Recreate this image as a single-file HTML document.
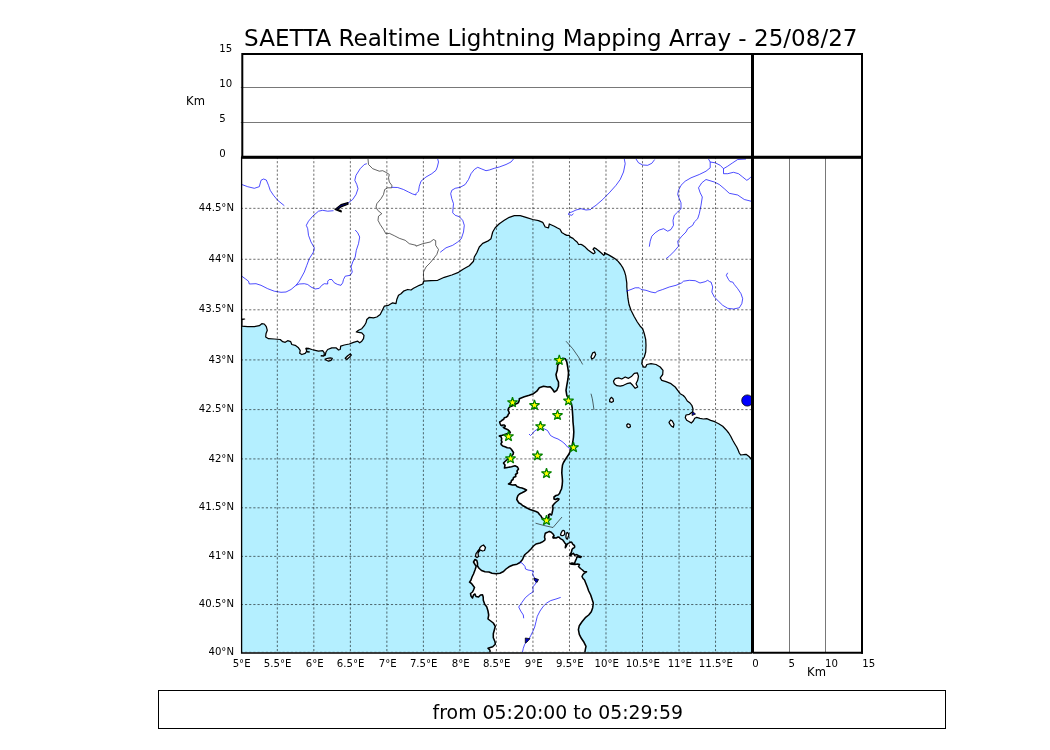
<!DOCTYPE html>
<html lang="en"><head><meta charset="utf-8"><title>SAETTA Realtime Lightning Mapping Array</title>
<style>html,body{margin:0;padding:0;background:#fff}body{width:1050px;height:750px;overflow:hidden;position:relative}svg{position:absolute;left:0;top:0;display:block}text{font-family:"DejaVu Sans","Liberation Sans",sans-serif;fill:#000}.t{font-size:11.1px}.dot{stroke:#000;stroke-width:0.8;stroke-dasharray:2.2 1.97;fill:none;opacity:.72}.gl{stroke:#555;stroke-width:0.8;fill:none}.riv{fill:none;stroke:#0000ff;stroke-width:0.7;stroke-linejoin:round}.bord{fill:none;stroke:#111;stroke-width:0.65}.coast{fill:none;stroke:#000;stroke-width:1.25;stroke-linejoin:round}.star{fill:#ffff00;stroke:#008000;stroke-width:1.2;stroke-linejoin:bevel}</style></head><body>
<svg width="1050" height="750" viewBox="0 0 1050 750">
<rect x="0" y="0" width="1050" height="750" fill="#fff"/>
<defs><clipPath id="mc"><rect x="240.8" y="156.95" width="511.25999999999993" height="495.40000000000003"/></clipPath></defs>
<g clip-path="url(#mc)">
<rect x="241" y="157" width="512" height="496" fill="#b4efff"/>
<path d="M241.0 157.0 241.0 319.0 241.5 319.0 244.6 319.0 241.9 319.6 241.8 326.2 247.7 326.7 254.3 326.7 259.3 325.7 261.8 323.7 264.3 324.0 266.3 326.7 267.3 330.3 266.0 333.7 265.7 337.0 268.5 338.7 274.3 339.0 280.2 339.5 282.7 341.7 285.2 342.3 287.7 340.7 290.7 341.7 291.8 344.5 295.2 345.3 298.5 347.8 300.2 350.3 299.7 353.3 301.8 354.5 305.2 353.3 306.8 351.2 306.0 348.7 308.5 348.3 311.8 349.5 315.2 350.3 318.5 351.2 322.7 350.7 324.3 352.8 324.0 355.3 325.2 355.3 326.0 352.0 327.7 349.5 331.8 347.8 336.0 347.8 338.5 350.0 340.2 349.5 340.7 346.2 344.3 345.0 349.3 344.0 353.5 342.3 357.7 341.2 359.7 342.8 361.8 341.2 363.5 338.7 364.0 335.3 361.8 332.8 358.5 332.3 356.3 332.0 358.5 330.3 361.8 328.7 364.3 325.7 366.0 322.8 366.8 319.5 369.3 317.3 373.5 317.8 376.8 317.0 380.2 314.5 382.7 309.5 384.3 306.2 388.5 305.3 392.7 302.8 396.0 303.7 396.8 299.5 398.5 295.3 401.0 293.7 403.5 291.2 407.7 289.5 411.0 290.0 413.5 288.3 416.0 287.0 419.3 285.3 422.7 284.0 423.5 282.0 423.5 281.2 431.0 280.7 437.7 280.3 444.3 277.3 451.8 275.0 458.5 272.3 463.5 269.0 469.3 265.7 473.5 261.2 474.3 257.0 476.8 252.8 479.3 247.0 482.7 243.3 487.7 241.2 491.0 238.7 492.7 232.0 495.2 227.8 499.3 223.7 504.3 220.3 509.3 217.3 514.3 215.7 520.2 215.7 526.0 217.3 532.7 219.5 538.5 220.7 542.7 222.3 545.2 227.0 548.5 227.8 549.3 224.0 554.3 226.2 557.5 228.0 560.0 229.3 561.7 232.4 564.3 234.1 566.9 235.4 569.1 235.4 570.4 237.1 573.0 238.4 575.2 240.6 577.3 242.3 578.6 244.5 580.8 244.3 583.0 245.4 585.2 247.1 587.8 249.7 590.8 251.9 593.4 253.8 595.1 252.8 594.3 250.6 593.0 249.3 594.3 247.7 596.4 248.9 599.0 251.0 601.6 253.2 603.8 255.4 604.7 254.1 604.4 252.6 606.0 253.6 608.6 254.9 612.0 256.9 615.5 259.0 618.1 261.4 620.7 264.5 622.9 267.9 624.6 271.8 625.7 275.7 626.3 279.6 626.8 283.1 626.8 287.0 627.3 292.0 628.0 298.7 629.0 304.5 631.0 310.3 634.0 316.2 637.3 322.0 640.2 326.2 642.7 328.7 644.3 333.7 645.7 339.5 646.0 345.3 645.7 352.0 644.3 357.0 642.3 360.3 641.8 363.7 643.5 367.0 645.7 367.0 646.8 364.5 651.0 363.7 656.0 364.5 660.2 367.0 663.0 370.3 662.7 374.5 660.2 377.8 661.8 380.3 666.0 381.7 671.0 383.7 675.2 387.0 677.7 390.3 680.2 393.7 683.3 395.5 685.3 397.7 687.3 401.0 690.0 403.0 692.0 405.7 693.0 409.0 692.7 411.7 689.3 414.3 686.0 415.0 685.3 417.7 686.7 420.3 689.3 421.7 691.3 423.0 693.3 421.0 694.7 418.3 696.7 417.4 700.0 418.3 703.3 419.0 706.7 418.7 710.7 420.3 714.7 421.7 718.7 423.7 722.7 426.3 726.0 429.7 728.7 433.0 730.7 436.3 732.7 440.3 734.7 443.7 736.7 447.0 738.0 449.7 739.3 453.0 740.7 455.0 743.3 454.7 746.0 454.3 748.7 456.3 751.3 459.0 753.0 460.5 753.0 157.0Z" fill="#fff"/>
<path class="coast" d="M241.5 319.0 244.6 319.0 241.9 319.6 241.8 326.2 247.7 326.7 254.3 326.7 259.3 325.7 261.8 323.7 264.3 324.0 266.3 326.7 267.3 330.3 266.0 333.7 265.7 337.0 268.5 338.7 274.3 339.0 280.2 339.5 282.7 341.7 285.2 342.3 287.7 340.7 290.7 341.7 291.8 344.5 295.2 345.3 298.5 347.8 300.2 350.3 299.7 353.3 301.8 354.5 305.2 353.3 306.8 351.2 306.0 348.7 308.5 348.3 311.8 349.5 315.2 350.3 318.5 351.2 322.7 350.7 324.3 352.8 324.0 355.3 325.2 355.3 326.0 352.0 327.7 349.5 331.8 347.8 336.0 347.8 338.5 350.0 340.2 349.5 340.7 346.2 344.3 345.0 349.3 344.0 353.5 342.3 357.7 341.2 359.7 342.8 361.8 341.2 363.5 338.7 364.0 335.3 361.8 332.8 358.5 332.3 356.3 332.0 358.5 330.3 361.8 328.7 364.3 325.7 366.0 322.8 366.8 319.5 369.3 317.3 373.5 317.8 376.8 317.0 380.2 314.5 382.7 309.5 384.3 306.2 388.5 305.3 392.7 302.8 396.0 303.7 396.8 299.5 398.5 295.3 401.0 293.7 403.5 291.2 407.7 289.5 411.0 290.0 413.5 288.3 416.0 287.0 419.3 285.3 422.7 284.0 423.5 282.0 423.5 281.2 431.0 280.7 437.7 280.3 444.3 277.3 451.8 275.0 458.5 272.3 463.5 269.0 469.3 265.7 473.5 261.2 474.3 257.0 476.8 252.8 479.3 247.0 482.7 243.3 487.7 241.2 491.0 238.7 492.7 232.0 495.2 227.8 499.3 223.7 504.3 220.3 509.3 217.3 514.3 215.7 520.2 215.7 526.0 217.3 532.7 219.5 538.5 220.7 542.7 222.3 545.2 227.0 548.5 227.8 549.3 224.0 554.3 226.2 557.5 228.0 560.0 229.3 561.7 232.4 564.3 234.1 566.9 235.4 569.1 235.4 570.4 237.1 573.0 238.4 575.2 240.6 577.3 242.3 578.6 244.5 580.8 244.3 583.0 245.4 585.2 247.1 587.8 249.7 590.8 251.9 593.4 253.8 595.1 252.8 594.3 250.6 593.0 249.3 594.3 247.7 596.4 248.9 599.0 251.0 601.6 253.2 603.8 255.4 604.7 254.1 604.4 252.6 606.0 253.6 608.6 254.9 612.0 256.9 615.5 259.0 618.1 261.4 620.7 264.5 622.9 267.9 624.6 271.8 625.7 275.7 626.3 279.6 626.8 283.1 626.8 287.0 627.3 292.0 628.0 298.7 629.0 304.5 631.0 310.3 634.0 316.2 637.3 322.0 640.2 326.2 642.7 328.7 644.3 333.7 645.7 339.5 646.0 345.3 645.7 352.0 644.3 357.0 642.3 360.3 641.8 363.7 643.5 367.0 645.7 367.0 646.8 364.5 651.0 363.7 656.0 364.5 660.2 367.0 663.0 370.3 662.7 374.5 660.2 377.8 661.8 380.3 666.0 381.7 671.0 383.7 675.2 387.0 677.7 390.3 680.2 393.7 683.3 395.5 685.3 397.7 687.3 401.0 690.0 403.0 692.0 405.7 693.0 409.0 692.7 411.7 689.3 414.3 686.0 415.0 685.3 417.7 686.7 420.3 689.3 421.7 691.3 423.0 693.3 421.0 694.7 418.3 696.7 417.4 700.0 418.3 703.3 419.0 706.7 418.7 710.7 420.3 714.7 421.7 718.7 423.7 722.7 426.3 726.0 429.7 728.7 433.0 730.7 436.3 732.7 440.3 734.7 443.7 736.7 447.0 738.0 449.7 739.3 453.0 740.7 455.0 743.3 454.7 746.0 454.3 748.7 456.3 751.3 459.0 753.0 460.5"/>
<path class="coast" d="M519.3 398.7 524.3 396.7 529.3 395.3 533.5 393.7 536.8 391.2 539.3 387.8 543.5 386.2 547.7 387.0 550.2 386.7 552.7 389.5 554.3 392.0 556.8 390.3 558.5 386.2 558.5 382.0 556.8 378.7 556.0 374.5 557.3 370.3 557.7 365.3 560.2 362.0 562.7 358.3 565.2 358.7 566.8 362.0 567.7 367.0 568.5 372.8 568.0 378.7 566.8 385.3 566.0 390.3 566.8 395.3 568.5 398.7 570.2 402.0 571.5 404.0 572.2 408.0 572.5 412.5 572.8 417.0 573.0 422.0 573.5 427.0 573.8 432.0 573.5 437.0 572.8 442.0 572.0 446.0 570.5 450.5 569.0 454.0 567.0 457.0 565.0 460.0 563.5 462.5 562.5 465.0 562.0 469.0 561.8 473.0 562.2 477.0 562.5 481.0 562.2 485.0 561.5 489.0 560.5 491.0 559.5 493.5 558.0 495.0 556.0 495.5 554.0 497.0 554.0 499.0 555.5 499.5 557.5 498.5 559.0 499.0 558.0 500.5 555.5 502.5 554.0 504.0 552.5 506.0 553.0 508.0 552.5 511.0 552.0 513.5 551.5 515.0 550.0 514.0 548.5 515.0 549.0 517.0 547.5 519.0 544.0 519.0 542.0 518.0 541.0 516.0 539.5 514.5 538.0 512.5 536.0 511.5 533.0 510.5 530.0 509.5 527.0 508.0 524.5 506.5 522.5 505.5 521.0 504.0 519.0 503.0 518.0 501.5 516.8 499.5 517.2 497.5 518.0 495.5 519.5 494.0 522.0 492.8 524.5 491.5 526.5 490.0 524.5 489.0 522.0 488.0 519.5 487.5 517.0 486.5 515.5 484.8 512.5 485.0 510.5 484.5 508.5 484.0 511.0 482.5 511.5 480.5 513.0 479.5 513.5 477.5 515.8 476.5 515.5 474.5 517.5 473.0 517.0 471.0 518.5 469.0 517.5 467.0 515.0 465.8 511.5 466.8 507.5 467.5 504.5 468.0 505.0 465.0 503.5 463.0 505.0 461.5 509.0 458.0 513.0 454.5 513.5 452.5 511.3 449.3 510.0 448.0 507.3 447.7 505.0 446.7 502.7 446.0 501.3 444.7 501.0 443.7 502.0 442.0 501.3 440.7 501.7 438.7 501.0 436.7 499.3 436.0 500.0 435.7 502.3 435.3 510.3 432.7 509.7 431.3 508.3 430.0 506.3 429.0 504.3 428.3 503.3 427.3 504.7 427.0 505.3 426.0 504.3 425.0 503.0 425.0 501.7 425.7 500.7 425.0 500.0 423.3 499.7 422.0 500.7 421.3 502.0 420.3 503.7 419.3 504.3 417.7 506.0 417.3 507.7 416.0 508.3 414.3 509.3 413.3 509.0 412.0 508.0 410.0 508.7 408.0 510.0 406.7 514.3 405.0 515.7 404.0 517.7 403.3 518.7 402.0 519.3 400.0Z" style="fill:#fff;stroke-width:1.6"/>
<path d="M490.0 653.5 490.0 650.3 488.0 648.3 492.7 646.7 495.3 644.3 495.0 641.7 493.3 637.7 493.3 633.7 494.4 629.7 495.3 626.3 493.3 623.0 490.7 621.0 488.0 619.0 488.7 615.0 488.0 611.0 486.7 606.7 484.7 604.3 483.3 600.3 483.2 597.0 482.5 594.8 480.5 595.0 478.5 597.0 476.0 596.5 475.0 594.0 473.5 595.0 472.5 598.0 471.0 596.0 470.5 593.5 472.5 592.0 473.5 590.0 474.5 587.5 473.0 585.5 471.5 583.5 469.5 582.2 471.0 580.0 472.0 577.0 473.5 574.0 475.0 570.0 476.0 567.0 476.0 566.0 475.0 564.5 473.5 562.0 475.0 559.5 476.8 560.5 477.5 563.0 477.5 566.0 479.0 568.2 481.5 570.5 485.0 571.8 489.0 572.0 492.0 573.2 496.0 573.8 500.0 573.2 503.5 571.5 506.0 569.0 509.0 566.8 513.0 565.0 517.0 564.2 520.0 562.5 522.5 559.5 524.0 556.0 525.0 554.5 528.0 552.0 531.0 549.0 533.5 546.0 536.0 544.0 540.0 543.0 541.6 542.3 543.2 541.3 544.8 540.2 545.1 538.9 544.5 537.3 544.8 535.1 545.3 533.3 546.9 532.5 548.3 531.9 549.3 531.4 550.7 531.9 552.0 533.0 553.3 534.3 554.1 535.9 552.8 537.0 553.3 538.1 554.7 537.8 556.0 538.1 557.1 537.5 558.1 537.0 559.2 537.3 560.0 538.3 561.3 539.1 562.7 539.9 563.5 541.0 564.3 542.1 565.1 543.4 566.1 544.2 565.6 545.8 565.3 547.7 566.1 546.6 566.9 544.7 568.0 543.4 569.3 542.9 570.7 542.1 571.7 542.3 572.5 543.7 573.3 544.7 574.4 545.5 574.7 546.9 573.9 547.9 572.8 548.5 572.0 549.5 571.7 551.1 571.2 552.7 570.4 554.1 569.6 555.7 570.9 555.4 572.0 554.1 573.3 553.3 574.1 554.3 574.7 555.4 576.0 554.6 577.3 554.9 578.4 555.7 580.0 556.2 581.3 556.7 580.5 557.5 578.9 557.0 577.3 556.7 576.8 557.5 576.3 559.1 575.5 560.7 574.9 562.3 574.7 563.4 572.0 563.1 569.8 563.7 572.0 564.3 575.0 564.5 577.5 564.0 579.5 564.5 578.5 566.5 580.5 568.5 582.5 570.0 584.0 571.5 586.5 571.8 584.5 573.0 583.0 574.5 582.0 576.5 583.0 578.5 584.5 580.0 585.5 582.5 587.3 587.0 588.7 591.0 590.7 595.0 592.0 599.0 593.3 603.0 592.7 607.7 591.3 611.7 588.7 615.0 585.3 617.7 582.0 621.7 579.3 625.7 578.4 629.7 579.3 634.3 581.3 638.3 584.0 642.3 586.0 646.3 585.3 649.7 584.7 653.5Z" fill="#fff"/><path class="coast" d="M490.0 653.5 490.0 650.3 488.0 648.3 492.7 646.7 495.3 644.3 495.0 641.7 493.3 637.7 493.3 633.7 494.4 629.7 495.3 626.3 493.3 623.0 490.7 621.0 488.0 619.0 488.7 615.0 488.0 611.0 486.7 606.7 484.7 604.3 483.3 600.3 483.2 597.0 482.5 594.8 480.5 595.0 478.5 597.0 476.0 596.5 475.0 594.0 473.5 595.0 472.5 598.0 471.0 596.0 470.5 593.5 472.5 592.0 473.5 590.0 474.5 587.5 473.0 585.5 471.5 583.5 469.5 582.2 471.0 580.0 472.0 577.0 473.5 574.0 475.0 570.0 476.0 567.0 476.0 566.0 475.0 564.5 473.5 562.0 475.0 559.5 476.8 560.5 477.5 563.0 477.5 566.0 479.0 568.2 481.5 570.5 485.0 571.8 489.0 572.0 492.0 573.2 496.0 573.8 500.0 573.2 503.5 571.5 506.0 569.0 509.0 566.8 513.0 565.0 517.0 564.2 520.0 562.5 522.5 559.5 524.0 556.0 525.0 554.5 528.0 552.0 531.0 549.0 533.5 546.0 536.0 544.0 540.0 543.0 541.6 542.3 543.2 541.3 544.8 540.2 545.1 538.9 544.5 537.3 544.8 535.1 545.3 533.3 546.9 532.5 548.3 531.9 549.3 531.4 550.7 531.9 552.0 533.0 553.3 534.3 554.1 535.9 552.8 537.0 553.3 538.1 554.7 537.8 556.0 538.1 557.1 537.5 558.1 537.0 559.2 537.3 560.0 538.3 561.3 539.1 562.7 539.9 563.5 541.0 564.3 542.1 565.1 543.4 566.1 544.2 565.6 545.8 565.3 547.7 566.1 546.6 566.9 544.7 568.0 543.4 569.3 542.9 570.7 542.1 571.7 542.3 572.5 543.7 573.3 544.7 574.4 545.5 574.7 546.9 573.9 547.9 572.8 548.5 572.0 549.5 571.7 551.1 571.2 552.7 570.4 554.1 569.6 555.7 570.9 555.4 572.0 554.1 573.3 553.3 574.1 554.3 574.7 555.4 576.0 554.6 577.3 554.9 578.4 555.7 580.0 556.2 581.3 556.7 580.5 557.5 578.9 557.0 577.3 556.7 576.8 557.5 576.3 559.1 575.5 560.7 574.9 562.3 574.7 563.4 572.0 563.1 569.8 563.7 572.0 564.3 575.0 564.5 577.5 564.0 579.5 564.5 578.5 566.5 580.5 568.5 582.5 570.0 584.0 571.5 586.5 571.8 584.5 573.0 583.0 574.5 582.0 576.5 583.0 578.5 584.5 580.0 585.5 582.5 587.3 587.0 588.7 591.0 590.7 595.0 592.0 599.0 593.3 603.0 592.7 607.7 591.3 611.7 588.7 615.0 585.3 617.7 582.0 621.7 579.3 625.7 578.4 629.7 579.3 634.3 581.3 638.3 584.0 642.3 586.0 646.3 585.3 649.7 584.7 653.5" style="stroke-width:1.55"/>
<path class="coast" d="M480.0 547.5 481.5 546.0 483.5 545.0 485.5 547.5 484.5 550.5 482.5 551.0 480.5 550.0 479.0 551.5 478.0 553.5 478.5 556.5 477.0 557.5 475.5 556.5 476.0 553.5 477.5 551.5 479.5 549.0Z" style="fill:#fff"/>
<path class="coast" d="M560.5 534.9 561.1 533.0 562.1 531.1 563.2 530.3 564.3 530.9 564.8 532.5 564.5 534.3 563.5 535.4 561.9 535.7Z" style="fill:#fff"/>
<path class="coast" d="M566.4 533.0 567.5 532.5 568.5 533.8 568.8 535.4 568.0 537.3 567.5 539.1 566.4 538.6 565.9 537.0 566.1 534.9Z" style="fill:#fff"/>
<path class="coast" d="M613.5 381.2 615.2 378.7 618.5 377.8 621.8 379.0 625.2 377.0 628.5 378.3 631.8 376.2 634.3 373.3 637.3 372.8 638.5 376.2 637.7 380.3 636.0 383.7 637.7 387.0 635.2 388.3 632.7 385.3 630.2 382.8 626.8 383.7 623.5 385.3 620.2 386.2 616.8 385.7 614.3 383.7Z" style="fill:#fff"/>
<path class="coast" d="M591.0 357.0 592.7 352.8 594.7 352.0 595.7 354.5 594.0 357.8 591.8 359.0Z" style="fill:#fff"/>
<path class="coast" d="M609.7 399.5 611.3 397.3 613.0 398.7 613.5 401.2 611.8 402.3 609.7 401.7Z" style="fill:#fff"/>
<path class="coast" d="M669.0 422.3 670.7 420.0 672.3 421.0 674.0 424.3 673.3 427.3 671.3 426.0 669.6 423.7Z" style="fill:#fff"/>
<path class="coast" d="M626.7 425.0 628.0 423.7 630.0 424.6 630.4 426.7 628.7 427.7 627.0 426.7Z" style="fill:#fff"/>
<path class="coast" d="M325.2 359.0 327.7 358.3 330.2 357.8 332.3 358.3 331.0 360.3 328.5 361.2 326.0 360.0Z" style="fill:#fff"/>
<path class="coast" d="M345.2 358.3 347.7 355.7 350.2 354.0 351.3 355.0 349.3 357.3 346.8 359.5Z" style="fill:#fff"/>
<path d="M320.7 355.7 324.3 356.0" fill="none" stroke="#000" stroke-width="1.6"/>
<path d="M305.7 348.3 308.5 348.7" fill="none" stroke="#000" stroke-width="1.6"/>
<path d="M306.8 351.7 309.7 352.0" fill="none" stroke="#000" stroke-width="1.6"/>
<path class="bord" d="M368.0 159.0 368.5 164.5 372.7 168.7 379.3 171.2 382.7 170.7 386.8 172.8 389.3 174.5 388.5 177.8 389.3 182.0 391.8 185.3 391.8 187.8 387.7 187.8 384.7 189.5 383.5 194.5 381.0 198.7 376.8 203.7 376.0 207.0 377.7 210.3 381.8 213.7 378.5 216.2 378.0 220.3 380.2 224.5 383.5 229.5 386.0 234.0 389.3 233.3 394.3 235.7 399.3 238.3 405.2 240.3 409.3 243.7 416.0 245.3 416.0 246.2 422.7 243.7 430.2 242.0 433.5 239.5 435.7 240.7 435.7 245.3 438.5 249.5 436.8 254.5 433.5 258.7 430.2 262.8 426.0 267.0 423.5 272.0 423.5 277.0 424.3 281.2"/>
<path class="bord" d="M566.0 341.2 572.7 348.7 578.5 357.0 582.7 364.5"/>
<path class="bord" d="M591.0 393.7 592.3 398.7 593.0 403.0 594.0 410.0"/>
<path class="bord" d="M535.5 523.2 544.0 525.5 553.0 527.5 562.0 517.0"/>
<path class="riv" d="M241.8 184.5 247.7 186.7 254.3 188.3 259.3 186.7 261.0 180.3 263.5 179.0 266.3 180.0 268.5 185.3 270.2 190.3 273.5 195.3 277.7 200.3 284.3 205.7"/>
<path class="riv" d="M366.8 163.7 364.3 164.5 360.2 168.7 356.0 175.3 354.8 180.3 356.8 184.5 358.0 188.7 356.0 194.5 352.7 199.5 347.7 203.3"/>
<path class="riv" d="M333.5 210.7 327.7 211.2 322.7 210.3 318.5 211.2 312.7 216.2 308.5 221.2 306.3 225.3 307.7 228.7 308.5 235.3 311.0 242.0 314.3 247.8 313.5 252.0 309.3 258.7 306.8 265.3 304.3 272.0 299.3 281.2 296.0 285.3"/>
<path class="riv" d="M355.2 230.0 357.7 232.8 359.7 237.0 358.5 243.7 356.3 250.3 355.2 257.0 352.7 262.0 351.0 267.0 352.3 272.0 350.2 275.3 345.2 276.2 343.5 279.5 342.7 282.8"/>
<path class="riv" d="M327.7 284.0 327.7 281.2 329.3 279.5 331.8 279.5 333.5 281.7 334.3 282.8 337.7 284.5 341.0 285.3 342.7 282.8"/>
<path class="riv" d="M241.8 276.2 245.2 278.7 248.5 281.2 249.3 284.0 256.0 283.7 261.0 285.3 267.7 288.7 274.3 291.2 281.0 292.3 286.0 292.0 291.0 289.5 296.0 285.3 299.3 284.0 304.3 283.7 307.7 284.5 311.0 287.0 315.2 289.0 319.3 288.3 321.8 285.3 324.3 283.7 327.7 284.0"/>
<path class="riv" d="M391.8 187.3 397.7 187.5 403.5 189.5 408.5 192.0 412.7 194.0 416.0 195.0"/>
<path class="riv" d="M437.7 159.0 438.5 162.0 437.3 167.0 436.0 170.3 431.8 173.7 426.0 177.0 421.0 181.2 419.3 186.2 418.5 191.2 416.0 193.7 416.0 195.0"/>
<path class="riv" d="M513.5 159.0 511.0 162.0 506.0 164.5 499.3 167.0 494.3 168.3 489.3 170.0 486.0 170.7 481.8 169.0 477.7 167.3 474.3 169.5 471.0 173.7 468.5 179.5 465.2 184.5 460.2 187.3 455.2 188.3 451.8 190.3 450.7 193.7 451.8 198.7 453.5 203.7 453.0 208.7 452.7 212.8 455.2 215.3 459.3 216.7 462.7 220.3 464.3 225.3 463.5 232.0 461.3 238.7 457.7 242.0 452.7 245.3 446.0 247.8 440.2 252.3"/>
<path class="riv" d="M591.0 209.5 586.0 210.0 581.0 208.7 576.0 210.0 571.8 212.0 569.0 212.8 568.5 214.5 571.8 215.3 573.5 213.7"/>
<path class="riv" d="M624.3 159.0 625.2 163.7 623.5 172.0 620.2 179.5 616.0 185.3 609.3 192.8 602.7 199.5 596.0 205.3 591.0 208.7"/>
<path class="riv" d="M636.0 159.0 638.5 162.8 642.7 165.0 647.7 165.3 651.8 163.3 654.7 159.5"/>
<path class="riv" d="M708.5 159.0 710.2 162.0 710.2 167.8 706.0 171.2 699.3 174.5 691.0 177.8 685.2 181.2 681.0 185.3 678.5 190.3 677.7 194.5 679.3 198.7 681.0 202.8 681.0 208.7 677.7 212.0 674.3 215.3 673.0 220.3 673.5 225.3 671.0 229.5 667.7 231.2 663.5 228.7 659.3 230.0 655.2 232.8 651.8 236.2 650.2 241.2 649.3 246.7"/>
<path class="riv" d="M751.0 201.2 744.3 199.5 737.7 195.0 729.3 193.3 724.3 188.7 719.3 184.5 714.3 182.0 706.0 179.5 701.8 182.8 698.5 187.8 700.2 192.8 702.3 197.0 701.0 205.3 699.3 213.7 697.7 218.7 694.3 222.0 692.7 225.3 687.7 228.7 686.0 232.0 681.8 236.2 677.7 241.2 678.5 246.2 674.3 251.2 669.3 256.2 666.0 258.7"/>
<path class="riv" d="M710.2 162.0 715.2 162.8 720.2 165.3 723.5 168.7 723.5 173.7 727.7 173.7 733.5 172.3 738.5 173.7 742.7 177.0 746.8 180.3 749.3 178.7 751.0 176.7"/>
<path class="riv" d="M723.5 168.7 727.7 166.2 732.7 162.8 737.7 159.5 746.0 159.0"/>
<path class="riv" d="M727.7 272.8 726.3 275.3 728.5 279.5 730.2 281.7 732.7 282.0 734.3 284.5 737.7 288.7 741.0 293.7 742.7 298.7 741.8 303.7 739.3 307.8 733.5 309.0 727.7 308.3 722.7 305.3 718.5 301.2 714.3 297.0 711.8 292.0 712.7 287.0 711.0 282.0 709.7 281.7 707.7 280.3 705.2 281.7 700.0 283.0 695.2 280.7 689.3 280.3 683.5 281.2 681.8 282.8 676.0 285.3 669.3 287.0 662.7 289.5 657.7 291.2 655.2 292.8 651.0 292.0 646.0 290.3 641.0 289.5 639.3 287.8 635.2 287.8 631.0 289.5 626.3 291.2"/>
<path class="riv" d="M529.0 434.0 530.5 435.5 532.5 433.5 534.5 431.0 537.0 429.5 540.5 428.5 544.5 429.0 547.5 430.5 549.0 433.0 550.5 435.5 554.0 437.5 558.0 439.0 562.0 441.5 565.0 444.0 567.5 447.0 570.5 448.8"/>
<path class="riv" d="M519.5 562.2 521.0 562.5 523.0 564.0 525.0 566.5 525.5 569.0 528.0 570.0 531.0 570.5 533.5 571.5 532.5 574.0 534.0 577.0 535.0 579.0 536.0 583.0 534.5 585.0 532.7 587.0 533.3 591.7 529.3 594.3 525.3 597.7 522.0 602.3 518.7 607.0 520.7 611.0 523.3 615.0 523.7 618.3"/>
<path class="riv" d="M560.7 597.4 556.0 599.0 550.7 600.6 546.7 603.0 543.3 606.3 540.0 611.0 537.3 616.3 536.0 621.7 534.7 627.0 532.7 631.7 530.7 635.7 529.3 638.3 524.7 644.3 523.3 648.3 522.4 652.5"/>
<path d="M534.0 578.0 538.5 579.5 537.0 582.5 534.5 580.5Z" fill="#0000c8" stroke="#000" stroke-width="0.8"/>
<path d="M525.3 638.0 530.0 638.7 526.7 642.3 525.3 643.0Z" fill="#0000c8" stroke="#000" stroke-width="0.8"/>
<path d="M692.5 411.5 695.5 414.0 692.0 415.5Z" fill="#0000c8" stroke="#000" stroke-width="0.8"/>
<path d="M347.9 202.7 341 204.6 335 209.4 341.3 211.9 341 210.6 337.6 209.5 341.6 206.6 348 204.3Z" fill="#00008b" stroke="#000" stroke-width="1.2" stroke-linejoin="round"/>
<ellipse cx="747.3" cy="400.5" rx="5.6" ry="5.6" fill="#0000ff" stroke="#000" stroke-width="0.8"/>
<line class="dot" x1="277.32" y1="156.95" x2="277.32" y2="652.35"/>
<line class="dot" x1="313.84" y1="156.95" x2="313.84" y2="652.35"/>
<line class="dot" x1="350.36" y1="156.95" x2="350.36" y2="652.35"/>
<line class="dot" x1="386.87" y1="156.95" x2="386.87" y2="652.35"/>
<line class="dot" x1="423.39" y1="156.95" x2="423.39" y2="652.35"/>
<line class="dot" x1="459.91" y1="156.95" x2="459.91" y2="652.35"/>
<line class="dot" x1="496.43" y1="156.95" x2="496.43" y2="652.35"/>
<line class="dot" x1="532.95" y1="156.95" x2="532.95" y2="652.35"/>
<line class="dot" x1="569.47" y1="156.95" x2="569.47" y2="652.35"/>
<line class="dot" x1="605.99" y1="156.95" x2="605.99" y2="652.35"/>
<line class="dot" x1="642.50" y1="156.95" x2="642.50" y2="652.35"/>
<line class="dot" x1="679.02" y1="156.95" x2="679.02" y2="652.35"/>
<line class="dot" x1="715.54" y1="156.95" x2="715.54" y2="652.35"/>
<line class="dot" x1="240.8" y1="652.35" x2="752.06" y2="652.35"/>
<line class="dot" x1="240.8" y1="604.54" x2="752.06" y2="604.54"/>
<line class="dot" x1="240.8" y1="556.36" x2="752.06" y2="556.36"/>
<line class="dot" x1="240.8" y1="507.82" x2="752.06" y2="507.82"/>
<line class="dot" x1="240.8" y1="458.91" x2="752.06" y2="458.91"/>
<line class="dot" x1="240.8" y1="409.61" x2="752.06" y2="409.61"/>
<line class="dot" x1="240.8" y1="359.91" x2="752.06" y2="359.91"/>
<line class="dot" x1="240.8" y1="309.80" x2="752.06" y2="309.80"/>
<line class="dot" x1="240.8" y1="259.28" x2="752.06" y2="259.28"/>
<line class="dot" x1="240.8" y1="208.34" x2="752.06" y2="208.34"/>
<path class="star" d="M559.30 355.00 560.49 358.67 564.34 358.66 561.22 360.92 562.42 364.59 559.30 362.32 556.18 364.59 557.38 360.92 554.26 358.66 558.11 358.67Z"/>
<path class="star" d="M512.50 397.20 513.69 400.87 517.54 400.86 514.42 403.12 515.62 406.79 512.50 404.52 509.38 406.79 510.58 403.12 507.46 400.86 511.31 400.87Z"/>
<path class="star" d="M534.50 400.00 535.69 403.67 539.54 403.66 536.42 405.92 537.62 409.59 534.50 407.32 531.38 409.59 532.58 405.92 529.46 403.66 533.31 403.67Z"/>
<path class="star" d="M568.50 395.50 569.69 399.17 573.54 399.16 570.42 401.42 571.62 405.09 568.50 402.82 565.38 405.09 566.58 401.42 563.46 399.16 567.31 399.17Z"/>
<path class="star" d="M557.50 410.00 558.69 413.67 562.54 413.66 559.42 415.92 560.62 419.59 557.50 417.32 554.38 419.59 555.58 415.92 552.46 413.66 556.31 413.67Z"/>
<path class="star" d="M540.50 421.20 541.69 424.87 545.54 424.86 542.42 427.12 543.62 430.79 540.50 428.52 537.38 430.79 538.58 427.12 535.46 424.86 539.31 424.87Z"/>
<path class="star" d="M508.50 431.20 509.69 434.87 513.54 434.86 510.42 437.12 511.62 440.79 508.50 438.52 505.38 440.79 506.58 437.12 503.46 434.86 507.31 434.87Z"/>
<path class="star" d="M573.50 442.20 574.69 445.87 578.54 445.86 575.42 448.12 576.62 451.79 573.50 449.52 570.38 451.79 571.58 448.12 568.46 445.86 572.31 445.87Z"/>
<path class="star" d="M510.50 453.30 511.69 456.97 515.54 456.96 512.42 459.22 513.62 462.89 510.50 460.62 507.38 462.89 508.58 459.22 505.46 456.96 509.31 456.97Z"/>
<path class="star" d="M537.50 450.50 538.69 454.17 542.54 454.16 539.42 456.42 540.62 460.09 537.50 457.82 534.38 460.09 535.58 456.42 532.46 454.16 536.31 454.17Z"/>
<path class="star" d="M546.50 468.20 547.69 471.87 551.54 471.86 548.42 474.12 549.62 477.79 546.50 475.52 543.38 477.79 544.58 474.12 541.46 471.86 545.31 471.87Z"/>
<path class="star" d="M546.50 515.20 547.69 518.87 551.54 518.86 548.42 521.12 549.62 524.79 546.50 522.52 543.38 524.79 544.58 521.12 541.46 518.86 545.31 518.87Z"/>
</g>
<path d="M241.6 157V653H752" fill="none" stroke="#000" stroke-width="1.3"/>
<line class="gl" x1="240.8" y1="87.5" x2="752.06" y2="87.5"/>
<line class="gl" x1="240.8" y1="122.5" x2="752.06" y2="122.5"/>
<line class="gl" x1="789.5" y1="156.95" x2="789.5" y2="652.35"/>
<line class="gl" x1="825.5" y1="156.95" x2="825.5" y2="652.35"/>
<g fill="none" stroke="#000">
<rect x="242.3" y="54" width="619.7" height="103.3" stroke-width="2"/>
<path d="M752.5 54V653" stroke-width="3"/>
<path d="M241.3 157.3H863" stroke-width="3"/>
<path d="M862 54V653.8" stroke-width="2"/>
<path d="M752.5 652.8H863" stroke-width="2"/>
<rect x="158.5" y="690.5" width="787" height="38" stroke-width="1"/>
</g>
<text font-size="22.3px" transform="translate(550.80 45.60) scale(1.034 1)" text-anchor="middle">SAETTA Realtime Lightning Mapping Array - 25/08/27</text>
<text font-size="19.5px" transform="translate(557.80 718.80) scale(0.968 1)" text-anchor="middle">from 05:20:00 to 05:29:59</text>
<text class="t" transform="translate(219.20 52.00) scale(0.915 1)" text-anchor="start">15</text>
<text class="t" transform="translate(219.20 87.00) scale(0.915 1)" text-anchor="start">10</text>
<text class="t" transform="translate(219.20 122.00) scale(0.915 1)" text-anchor="start">5</text>
<text class="t" transform="translate(219.20 157.00) scale(0.915 1)" text-anchor="start">0</text>
<text font-size="12.2px" transform="translate(195.50 105.00) scale(0.95 1)" text-anchor="middle">Km</text>
<text class="t" transform="translate(752.30 667.10) scale(0.915 1)" text-anchor="start">0</text>
<text class="t" transform="translate(788.60 667.10) scale(0.915 1)" text-anchor="start">5</text>
<text class="t" transform="translate(825.00 667.10) scale(0.915 1)" text-anchor="start">10</text>
<text class="t" transform="translate(862.20 667.10) scale(0.915 1)" text-anchor="start">15</text>
<text font-size="12.2px" transform="translate(816.50 676.00) scale(0.95 1)" text-anchor="middle">Km</text>
<text class="t" transform="translate(241.60 667.10) scale(0.915 1)" text-anchor="middle">5°E</text>
<text class="t" transform="translate(277.62 667.10) scale(0.915 1)" text-anchor="middle">5.5°E</text>
<text class="t" transform="translate(314.64 667.10) scale(0.915 1)" text-anchor="middle">6°E</text>
<text class="t" transform="translate(350.66 667.10) scale(0.915 1)" text-anchor="middle">6.5°E</text>
<text class="t" transform="translate(387.67 667.10) scale(0.915 1)" text-anchor="middle">7°E</text>
<text class="t" transform="translate(423.69 667.10) scale(0.915 1)" text-anchor="middle">7.5°E</text>
<text class="t" transform="translate(460.71 667.10) scale(0.915 1)" text-anchor="middle">8°E</text>
<text class="t" transform="translate(496.73 667.10) scale(0.915 1)" text-anchor="middle">8.5°E</text>
<text class="t" transform="translate(533.75 667.10) scale(0.915 1)" text-anchor="middle">9°E</text>
<text class="t" transform="translate(569.77 667.10) scale(0.915 1)" text-anchor="middle">9.5°E</text>
<text class="t" transform="translate(606.79 667.10) scale(0.915 1)" text-anchor="middle">10°E</text>
<text class="t" transform="translate(642.80 667.10) scale(0.915 1)" text-anchor="middle">10.5°E</text>
<text class="t" transform="translate(679.82 667.10) scale(0.915 1)" text-anchor="middle">11°E</text>
<text class="t" transform="translate(715.84 667.10) scale(0.915 1)" text-anchor="middle">11.5°E</text>
<text class="t" transform="translate(234.00 655.00) scale(0.915 1)" text-anchor="end">40°N</text>
<text class="t" transform="translate(234.00 607.00) scale(0.915 1)" text-anchor="end">40.5°N</text>
<text class="t" transform="translate(234.00 559.00) scale(0.915 1)" text-anchor="end">41°N</text>
<text class="t" transform="translate(234.00 510.00) scale(0.915 1)" text-anchor="end">41.5°N</text>
<text class="t" transform="translate(234.00 462.00) scale(0.915 1)" text-anchor="end">42°N</text>
<text class="t" transform="translate(234.00 412.00) scale(0.915 1)" text-anchor="end">42.5°N</text>
<text class="t" transform="translate(234.00 363.00) scale(0.915 1)" text-anchor="end">43°N</text>
<text class="t" transform="translate(234.00 312.00) scale(0.915 1)" text-anchor="end">43.5°N</text>
<text class="t" transform="translate(234.00 262.00) scale(0.915 1)" text-anchor="end">44°N</text>
<text class="t" transform="translate(234.00 211.00) scale(0.915 1)" text-anchor="end">44.5°N</text>
</svg></body></html>
